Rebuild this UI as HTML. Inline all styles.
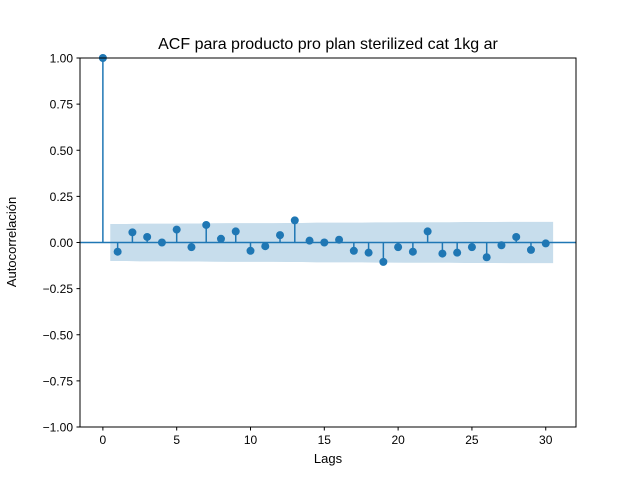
<!DOCTYPE html>
<html><head><meta charset="utf-8"><style>
body{margin:0;background:#fff}
svg text{font-family:"Liberation Sans","DejaVu Sans",sans-serif;fill:#000}
</style></head><body>
<svg id="chart" width="640" height="480">
<rect width="640" height="480" fill="#fff"/>
<text x="328" y="49" font-size="16" text-anchor="middle">ACF para producto pro plan sterilized cat 1kg ar</text>
<g id="band"></g><g id="marks"></g><g id="axes"></g>
<text x="328" y="463" font-size="13" text-anchor="middle">Lags</text>
<text x="16" y="242" font-size="13" text-anchor="middle" transform="rotate(-90 16 242)">Autocorrelación</text>
</svg>
<script>
const lags=[0,1,2,3,4,5,6,7,8,9,10,11,12,13,14,15,16,17,18,19,20,21,22,23,24,25,26,27,28,29,30];
const acf=[1,-0.05,0.055,0.03,0.0,0.07,-0.025,0.095,0.02,0.06,-0.045,-0.02,0.04,0.12,0.01,0.0,0.015,-0.045,-0.055,-0.105,-0.025,-0.05,0.06,-0.06,-0.055,-0.025,-0.08,-0.015,0.03,-0.04,-0.005];
const confBound=[0.1,0.1,0.102,0.102,0.102,0.103,0.103,0.104,0.105,0.105,0.105,0.105,0.106,0.106,0.108,0.108,0.108,0.108,0.109,0.109,0.11,0.11,0.11,0.11,0.111,0.111,0.111,0.112,0.112,0.112,0.112];
const xTicks=[0,5,10,15,20,25,30];
const yTicks=[-1,-0.75,-0.5,-0.25,0,0.25,0.5,0.75,1];
const yTickLabels=["−1.00","−0.75","−0.50","−0.25","0.00","0.25","0.50","0.75","1.00"];
const L=80,R=576,T=58,B=427,xmin=-1.55,xmax=32.05,ymin=-1,ymax=1;
const X=v=>L+(v-xmin)/(xmax-xmin)*(R-L);
const Y=v=>B-(v-ymin)/(ymax-ymin)*(B-T);
const NS="http://www.w3.org/2000/svg";
function mk(tag,attrs,parent){const e=document.createElementNS(NS,tag);for(const k in attrs)e.setAttribute(k,attrs[k]);document.getElementById(parent).appendChild(e);return e;}
let up=[],dn=[];
confBound.forEach((b,i)=>{const x=X(i+0.5);up.push(x+','+Y(b));dn.unshift(x+','+Y(-b));});
const band=mk('polygon',{points:up.concat(dn).join(' '),fill:'#1f77b4','fill-opacity':0.25},'band');


const z=mk('line',{x1:L,x2:R,y1:Y(0),y2:Y(0),stroke:'#1f77b4','stroke-width':1.5},'marks');


lags.forEach((l,i)=>{
  const s=mk('line',{x1:X(l),x2:X(l),y1:Y(0),y2:Y(acf[i]),stroke:'#1f77b4','stroke-width':1.5},'marks');
  
  
  const c=mk('circle',{cx:X(l),cy:Y(acf[i]),r:4,fill:'#1f77b4'},'marks');
  
  
});
const fr=mk('rect',{x:L,y:T,width:R-L,height:B-T,fill:'none',stroke:'#000','stroke-width':1},'axes');


xTicks.forEach(t=>{
  mk('line',{x1:X(t),x2:X(t),y1:B,y2:B+3.5,stroke:'#000'},'axes');
  const tx=mk('text',{x:X(t),y:B+17,'font-size':12,'text-anchor':'middle'},'axes');
  tx.textContent=t;
  
  
});
yTicks.forEach((t,i)=>{
  mk('line',{x1:L-3.5,x2:L,y1:Y(t),y2:Y(t),stroke:'#000'},'axes');
  const tx=mk('text',{x:L-7,y:Y(t)+4.5,'font-size':12,'text-anchor':'end'},'axes');
  tx.textContent=yTickLabels[i];
  
  
});
</script>
</body></html>
